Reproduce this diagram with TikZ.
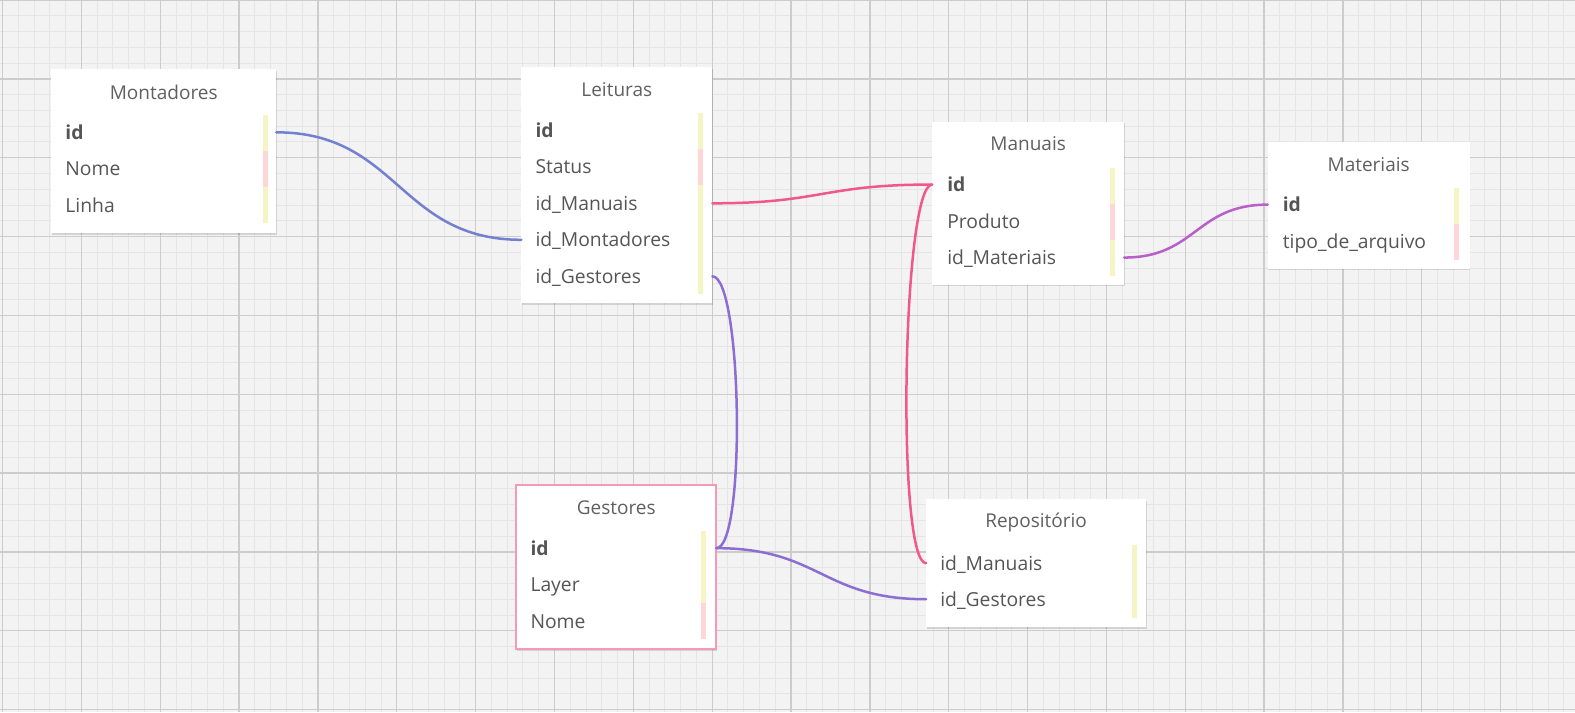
\documentclass[tikz,border=0pt]{standalone}
\usepackage{fontspec}
\setmainfont{Open Sans}
\usepackage{tikz}
\usetikzlibrary{shadows}
\definecolor{gridbg}{RGB}{243,243,243}
\definecolor{gridminor}{RGB}{229,229,229}
\definecolor{gridmajor}{RGB}{204,204,204}
\definecolor{titlegray}{RGB}{96,96,96}
\definecolor{fieldgray}{RGB}{85,85,85}
\definecolor{baryellow}{RGB}{244,244,196}
\definecolor{barpink}{RGB}{255,214,214}
\definecolor{gestborder}{RGB}{246,152,186}
\definecolor{linkblue}{RGB}{115,128,208}
\definecolor{linkpink}{RGB}{240,88,140}
\definecolor{linkviolet}{RGB}{185,95,200}
\definecolor{linkpurple}{RGB}{140,110,210}
\tikzset{
    er minor/.style={draw=gridminor, line width=0.9pt},
    er major/.style={draw=gridmajor, line width=1.3pt},
    er table/.style={
        fill=white,
        anchor=north west,
        inner sep=0pt,
        outer sep=0pt,
        drop shadow={shadow xshift=0.5pt, shadow yshift=-1.5pt, fill=black, opacity=0.13}
    },
    er title/.style={font=\fontsize{19}{23}\selectfont, text=titlegray, inner sep=0pt},
    er field/.style={
        anchor=west,
        font=\fontsize{19.3}{23}\selectfont,
        text=fieldgray,
        inner sep=0pt,
        text height=14pt,
        text depth=0pt
    },
    er key/.style={er field, font=\fontsize{19.3}{23}\selectfont\bfseries},
    er link/.style={line width=2.5pt, line cap=round}
}

\begin{document}
\begin{tikzpicture}[x=1.00446pt, y=-1.00446pt]
\useasboundingbox (0,0) rectangle (1568,709);
% background grid
\fill[gridbg] (0,0) rectangle (1568,709);
\foreach \i in {0,...,100} {
    \draw[er minor] (2.5+\i*15.7,0) -- (2.5+\i*15.7,709);
}
\foreach \i in {0,...,46} {
    \draw[er minor] (0,\i*15.7) -- (1568,\i*15.7);
}
\foreach \i in {0,...,20} {
    \draw[er major] (2.5+\i*78.5,0) -- (2.5+\i*78.5,709);
}
\foreach \i in {0,...,9} {
    \draw[er major] (0,\i*78.5) -- (1568,\i*78.5);
}

% Montadores
\node[er table, minimum width=225pt, minimum height=164pt] (mont) at (51,69) {};
\node[er title] (mont-title) at ([yshift=-23pt]mont.north) {Montadores};
\node[er key] (mont-id) at ([xshift=14pt, yshift=-63pt]mont.north west) {id};
\node[er field] (mont-nome) at ([xshift=14pt, yshift=-99.5pt]mont.north west) {Nome};
\node[er field] (mont-linha) at ([xshift=14pt, yshift=-136pt]mont.north west) {Linha};
\foreach \c [count=\k from 0] in {baryellow,barpink,baryellow}
    \fill[\c] ([xshift=-13pt, yshift=-46pt-36pt*\k]mont.north east) rectangle ++(5pt,-36pt);

% Leituras
\node[er table, minimum width=191pt, minimum height=236pt] (leit) at (519,67) {};
\node[er title] (leit-title) at ([yshift=-22pt]leit.north) {Leituras};
\node[er key] (leit-id) at ([xshift=14pt, yshift=-63pt]leit.north west) {id};
\node[er field] (leit-status) at ([xshift=14pt, yshift=-99.5pt]leit.north west) {Status};
\node[er field] (leit-manu) at ([xshift=14pt, yshift=-136pt]leit.north west) {id\_Manuais};
\node[er field] (leit-mont) at ([xshift=14pt, yshift=-172.5pt]leit.north west) {id\_Montadores};
\node[er field] (leit-gest) at ([xshift=14pt, yshift=-209pt]leit.north west) {id\_Gestores};
\foreach \c [count=\k from 0] in {baryellow,barpink,baryellow,baryellow,baryellow}
    \fill[\c] ([xshift=-14pt, yshift=-46pt-36pt*\k]leit.north east) rectangle ++(5pt,-36.5pt);

% Manuais
\node[er table, minimum width=192pt, minimum height=163pt] (manu) at (928,121) {};
\node[er title] (manu-title) at ([yshift=-22pt]manu.north) {Manuais};
\node[er key] (manu-id) at ([xshift=15pt, yshift=-63pt]manu.north west) {id};
\node[er field] (manu-prod) at ([xshift=15pt, yshift=-99.5pt]manu.north west) {Produto};
\node[er field] (manu-mat) at ([xshift=15pt, yshift=-136pt]manu.north west) {id\_Materiais};
\foreach \c [count=\k from 0] in {baryellow,barpink,baryellow}
    \fill[\c] ([xshift=-14pt, yshift=-46pt-36pt*\k]manu.north east) rectangle ++(5pt,-36pt);

% Materiais
\node[er table, minimum width=202pt, minimum height=127pt] (mate) at (1262,141) {};
\node[er title] (mate-title) at ([yshift=-23pt]mate.north) {Materiais};
\node[er key] (mate-id) at ([xshift=15pt, yshift=-63pt]mate.north west) {id};
\node[er field] (mate-tipo) at ([xshift=15pt, yshift=-99.5pt]mate.north west) {tipo\_de\_arquivo};
\foreach \c [count=\k from 0] in {baryellow,barpink}
    \fill[\c] ([xshift=-16pt, yshift=-46pt-36pt*\k]mate.north east) rectangle ++(5pt,-36pt);

% Gestores
\node[er table, draw=gestborder, line width=1.7pt, minimum width=200pt, minimum height=164pt] (gest) at (514,483) {};
\node[er title] (gest-title) at ([yshift=-23pt]gest.north) {Gestores};
\node[er key] (gest-id) at ([xshift=14pt, yshift=-63pt]gest.north west) {id};
\node[er field] (gest-layer) at ([xshift=14pt, yshift=-99.5pt]gest.north west) {Layer};
\node[er field] (gest-nome) at ([xshift=14pt, yshift=-136pt]gest.north west) {Nome};
\foreach \c [count=\k from 0] in {baryellow,baryellow,barpink}
    \fill[\c] ([xshift=-15pt, yshift=-46pt-36pt*\k]gest.north east) rectangle ++(5pt,-36pt);

% Repositorio
\node[er table, minimum width=220pt, minimum height=128pt] (repo) at (922,497) {};
\node[er title] (repo-title) at ([yshift=-23pt]repo.north) {Repositório};
\node[er field] (repo-manu) at ([xshift=14pt, yshift=-64pt]repo.north west) {id\_Manuais};
\node[er field] (repo-gest) at ([xshift=14pt, yshift=-100pt]repo.north west) {id\_Gestores};
\foreach \c [count=\k from 0] in {baryellow,baryellow}
    \fill[\c] ([xshift=-14pt, yshift=-46pt-36pt*\k]repo.north east) rectangle ++(5pt,-37pt);

% relations
\draw[er link, draw=linkblue] (mont.east |- mont-id) .. controls +(122pt,0pt) and +(-122pt,0pt) .. (leit.west |- leit-mont);
\draw[er link, draw=linkpink] (leit.east |- leit-manu) .. controls +(110pt,0pt) and +(-110pt,0pt) .. (manu.west |- manu-id);
\draw[er link, draw=linkpink] (manu.west |- manu-id) .. controls +(-30pt,0pt) and +(-30pt,0pt) .. (repo.west |- repo-manu);
\draw[er link, draw=linkviolet] (manu.east |- manu-mat) .. controls +(72pt,0pt) and +(-72pt,0pt) .. (mate.west |- mate-id);
\draw[er link, draw=linkpurple] (leit.east |- leit-gest) .. controls +(30pt,0pt) and +(30pt,0pt) .. (gest.east |- gest-id);
\draw[er link, draw=linkpurple] (gest.east |- gest-id) .. controls +(104pt,0pt) and +(-104pt,0pt) .. (repo.west |- repo-gest);
\end{tikzpicture}
\end{document}
